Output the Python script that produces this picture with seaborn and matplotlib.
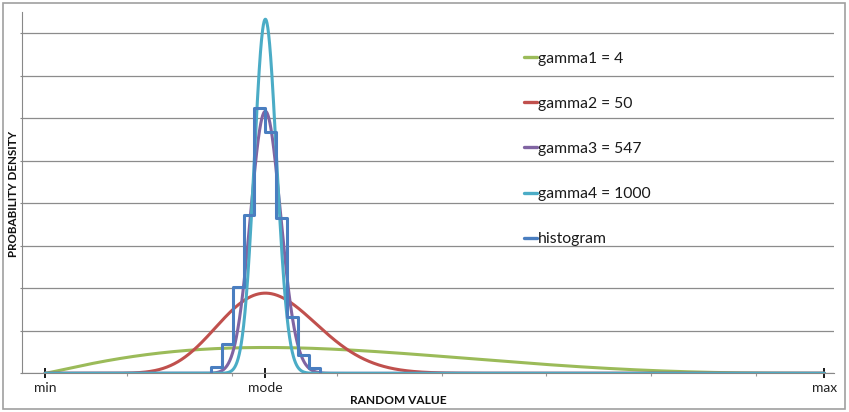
import math
import numpy as np
import matplotlib
matplotlib.use("Agg")
import matplotlib.pyplot as plt
from matplotlib.patches import Rectangle
import seaborn as sns

# ---------------- data ----------------
x_min, x_mode, x_max = 0.22, 2.32, 7.65
series_labels = ["gamma1 = 4", "gamma2 = 50", "gamma3 = 547", "gamma4 = 1000"]
gammas = [4, 50, 547, 1000]
series_colors = ["#9BBB59", "#C0504D", "#8064A2", "#4BACC6"]

hist_edges = [1.800, 1.904, 2.008, 2.112, 2.216, 2.320, 2.424, 2.528, 2.632, 2.736, 2.840]
hist_density = [0.063, 0.312, 0.920, 1.686, 2.825, 2.574, 1.650, 0.600, 0.190, 0.060]
hist_label = "histogram"
hist_color = "#4A7EC0"

x_tick_labels = ["min", "mode", "max"]
minor_ticks = [1, 2, 3, 4, 5, 6, 7]
grid_step = 0.453


def pert_pdf(x, a, m, b, g):
    al = 1 + g * (m - a) / (b - a)
    be = 1 + g * (b - m) / (b - a)
    lb = math.lgamma(al) + math.lgamma(be) - math.lgamma(al + be)
    with np.errstate(divide="ignore"):
        lf = (al - 1) * np.log(x - a) + (be - 1) * np.log(b - x) - lb - (al + be - 1) * math.log(b - a)
    return np.exp(lf)


# ---------------- figure ----------------
sns.set_style("white")
plt.rcParams["font.family"] = ["Lato", "DejaVu Sans"]

W, H = 849, 412
fig = plt.figure(figsize=(W / 100, H / 100), dpi=100)
ax = fig.add_axes([22 / W, (H - 373.3) / H, (834 - 22) / W, (373.3 - 12) / H])

xs = np.linspace(x_min, x_max, 3000)
for lab, g, c in zip(series_labels, gammas, series_colors):
    sns.lineplot(x=xs, y=pert_pdf(xs, x_min, x_mode, x_max, g), color=c, lw=2.2,
                 label=lab, ax=ax, estimator=None, sort=False)

hx = [hist_edges[0]] + list(hist_edges)
hy = [0.0] + list(hist_density) + [0.0]
sns.lineplot(x=hx, y=hy, drawstyle="steps-post", color=hist_color, lw=2.2,
             label=hist_label, ax=ax, estimator=None, sort=False)

ax.set_xlim(0, 7.741)
ax.set_ylim(0, 8.5 * grid_step)

ax.set_xticks([x_min, x_mode, x_max])
ax.set_xticklabels(x_tick_labels, fontsize=10, color="#222222")
ax.set_xticks(minor_ticks, minor=True)
ax.tick_params(axis="x", which="major", direction="inout", length=7, width=1.4,
               color="#1a1a1a", pad=2.5, bottom=True)
ax.tick_params(axis="x", which="minor", direction="out", length=1.8, width=0.8,
               color="#999999", bottom=True)

ax.set_yticks([k * grid_step for k in range(0, 9)])
ax.set_yticklabels([])
ax.tick_params(axis="y", which="major", direction="out", length=1.6, width=0.8,
               color="#888888", left=True)
ax.yaxis.grid(True, color="#8C8C8C", lw=0.9)
ax.set_axisbelow(True)

for s in ["top", "right"]:
    ax.spines[s].set_visible(False)
ax.spines["left"].set_color("#888888")
ax.spines["left"].set_linewidth(0.8)
ax.spines["bottom"].set_color("#888888")
ax.spines["bottom"].set_linewidth(0.8)

ax.set_xlabel("RANDOM VALUE", fontsize=8.6, fontweight="bold", color="#111111")
ax.set_ylabel("PROBABILITY DENSITY", fontsize=8.4, fontweight="bold", color="#111111")
ax_h = 373.3 - 12
ax.xaxis.set_label_coords((398 - 22) / (834 - 22), -(400 - 373.3) / ax_h)
ax.yaxis.set_label_coords(-(22 - 14) / (834 - 22), (373.3 - 193.5) / ax_h)
ax.xaxis.label.set_va("center")
ax.yaxis.label.set_va("center")

leg = ax.legend(loc="upper left", bbox_to_anchor=(524 / W, 1 - 51.8 / H),
                bbox_transform=fig.transFigure, frameon=False, fontsize=11.3,
                handlelength=0.85, handletextpad=0.05, labelspacing=1.98,
                borderpad=0, borderaxespad=0)
for t in leg.get_texts():
    t.set_color("#1a1a1a")
for h in leg.get_lines():
    h.set_linewidth(2.4)

fig.patches.append(Rectangle((2.5 / W, 3 / H), (845 - 2.5) / W, (409.5 - 3) / H,
                             transform=fig.transFigure, fill=False,
                             edgecolor="#A0A0A0", lw=1.2))

fig.savefig("out.png", dpi=100)
